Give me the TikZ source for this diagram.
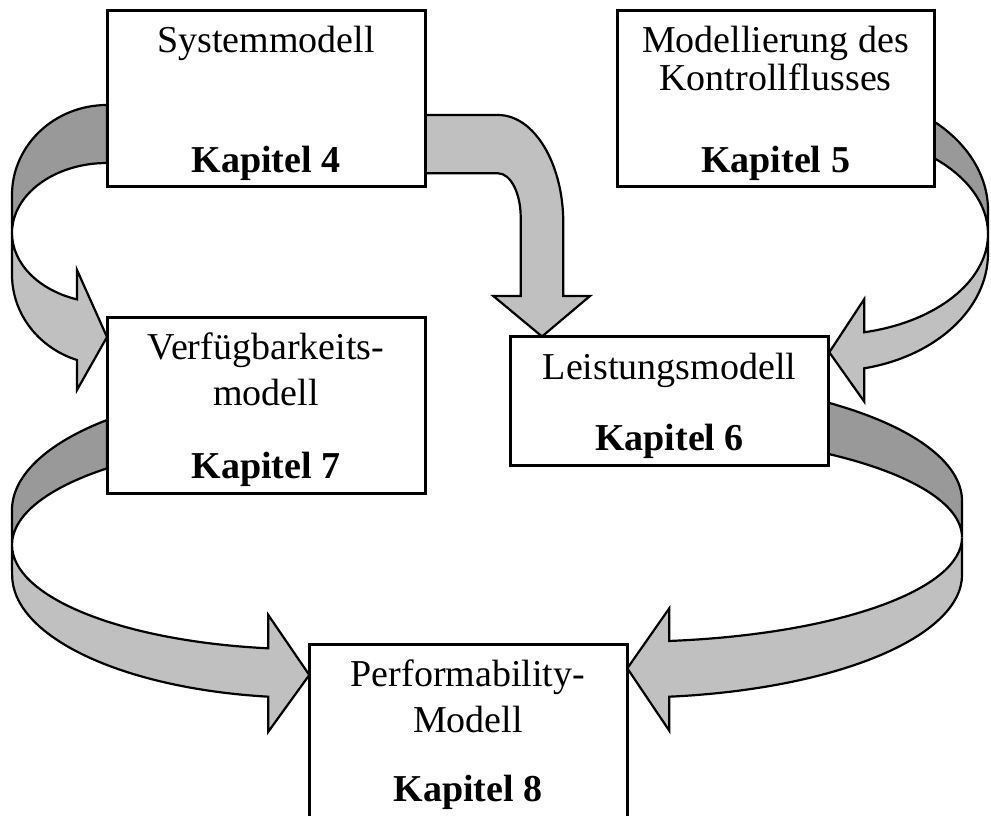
\documentclass[tikz,border=0pt]{standalone}
\usepackage{fontspec}
\setmainfont{Liberation Serif}
\usetikzlibrary{calc,backgrounds}
\definecolor{bandlight}{RGB}{192,192,192}
\definecolor{banddark}{RGB}{153,153,153}
\begin{document}
\begin{tikzpicture}[x=1pt,y=-1pt,
  chapter/.style={draw=black, line width=3pt, fill=white, inner sep=0pt,
                  minimum width=318pt, minimum height=176pt},
  title/.style={anchor=base, inner sep=0pt, font=\fontsize{38}{38}\selectfont},
  chap/.style={anchor=base, inner sep=0pt, font=\fontsize{38}{38}\selectfont\bfseries},
  front/.style={fill=bandlight, draw=black, line width=2.2pt},
  back/.style={fill=banddark, draw=black, line width=2.2pt}]
\useasboundingbox (0,0) rectangle (991,816);
\clip (0,0) rectangle (991,816);

% chapter boxes
\node[chapter] (sys) at (266,98.3) {};
\node[chapter, minimum width=317pt] (ctl) at (775.6,98.3) {};
\node[chapter] (avail) at (266,405.3) {};
\node[chapter, minimum height=129.4pt] (perf) at (669.5,401) {};
\node[chapter, minimum height=220pt] (pm) at (468,754.3) {};

% box texts
\node[title] (sysA) at ($(sys.north)+(0,44)$) {Systemmodell};
\node[chap]  (sysB) at ($(sys.south)+(0,-15.6)$) {Kapitel 4};
\node[title] (ctlA) at ($(ctl.north)+(0,44)$) {Modellierung des};
\node[title] (ctlB) at ($(ctl.north)+(0,81.5)$) {Kontrollflusses};
\node[chap]  (ctlC) at ($(ctl.south)+(0,-15.6)$) {Kapitel 5};
\node[title] (availA) at ($(avail.north)+(0,43.7)$) {Verfügbarkeits-};
\node[title] (availB) at ($(avail.north)+(0,89.4)$) {modell};
\node[chap]  (availC) at ($(avail.south)+(0,-16.3)$) {Kapitel 7};
\node[title] (perfA) at ($(perf.north)+(0,44.7)$) {Leistungsmodell};
\node[chap]  (perfB) at ($(perf.south)+(0,-16.7)$) {Kapitel 6};
\node[title] (pmA) at ($(pm.north)+(0,44)$) {Performability-};
\node[title] (pmB) at ($(pm.north)+(0,90)$) {Modell};
\node[chap]  (pmC) at ($(pm.north)+(0,158.4)$) {Kapitel 8};

% block arrows, behind the boxes
\begin{pgfonlayer}{background}
\clip (0,0) rectangle (991,816);
% Systemmodell -> Verfuegbarkeitsmodell (curved around the left)
\path[back] (107,105) arc[start angle=270, end angle=180, x radius=95, y radius=90]
  -- (12,233) arc[start angle=180, end angle=270, x radius=95, y radius=70] -- cycle;
\path[front] (12,233) arc[start angle=180, end angle=108.4, x radius=95, y radius=70]
  -- (77,270) -- (107,337) -- (77,390) -- (77,360)
  arc[start angle=108.4, end angle=180, x radius=95, y radius=90] -- cycle;

% Systemmodell -> Leistungsmodell (bent arrow)
\path[front] (425,115) -- (498,115)
  arc[start angle=270, end angle=360, x radius=65.3, y radius=108]
  -- (563.3,296) -- (590,296) -- (542,336.5) -- (493.3,296) -- (520.7,296) -- (520.7,217.3)
  arc[start angle=0, end angle=-90, x radius=22.7, y radius=44] -- (425,173.3) -- cycle;

% Kontrollfluss -> Leistungsmodell (curved around the right)
\path[back] (934.3,121.7) arc[start angle=-48.58, end angle=0, x radius=158.7, y radius=118]
  -- (988,233.9) arc[start angle=0, end angle=-48.58, x radius=158.7, y radius=100.85] -- cycle;
\path[front] (988,233.9) arc[start angle=0, end angle=77.26, x radius=158.7, y radius=100.85]
  -- (864.3,299) -- (829.3,352.3) -- (864.3,401.7) -- (864.3,368.3)
  arc[start angle=77.26, end angle=0, x radius=158.7, y radius=118] -- cycle;

% Verfuegbarkeitsmodell -> Performability-Modell
\path[back] (107,420) arc[start angle=227.15, end angle=180, x radius=297, y radius=123]
  -- (12,544.9) arc[start angle=180, end angle=227.15, x radius=297, y radius=104.4] -- cycle;
\path[front] (12,544.9) arc[start angle=180, end angle=97.9, x radius=297, y radius=104.4]
  -- (268.3,615) -- (309.3,675) -- (268.3,731.7) -- (268.3,696.7)
  arc[start angle=97.9, end angle=180, x radius=297, y radius=123] -- cycle;

% Leistungsmodell -> Performability-Modell
\path[back] (828.3,402.7) arc[start angle=-53.1, end angle=0, x radius=334.7, y radius=123]
  -- (962,537.4) arc[start angle=0, end angle=-53.1, x radius=334.7, y radius=104.4] -- cycle;
\path[front] (962,537.4) arc[start angle=0, end angle=82.8, x radius=334.7, y radius=104.4]
  -- (669.3,608.3) -- (627.3,668.3) -- (669.3,730.7) -- (669.3,696.7)
  arc[start angle=82.8, end angle=0, x radius=334.7, y radius=123] -- cycle;
\end{pgfonlayer}
\end{tikzpicture}
\end{document}
